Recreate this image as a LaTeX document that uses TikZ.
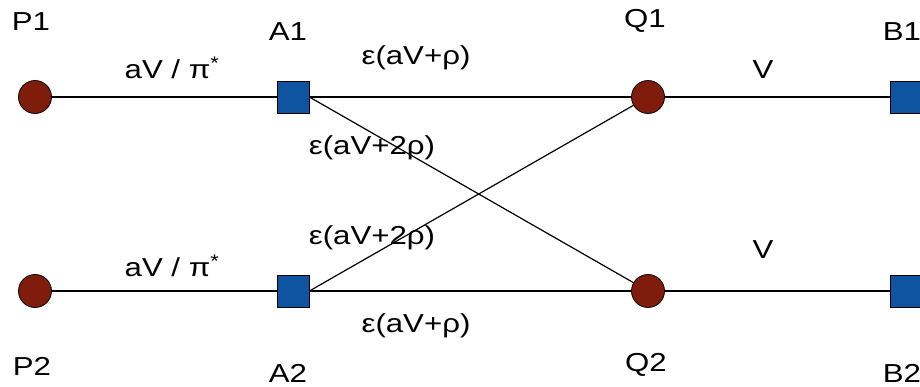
\documentclass[tikz,border=0pt]{standalone}
\usepackage{fontspec}
\setmainfont[FakeStretch=1.2]{Liberation Sans}
\usetikzlibrary{positioning}
\definecolor{portred}{RGB}{128,28,12}
\definecolor{boxblue}{RGB}{14,84,160}

\begin{document}
\begin{tikzpicture}[x=1pt,y=-1pt,
  port/.style={circle,draw=black,fill=portred,minimum size=33pt,inner sep=0pt,line width=0.8pt},
  box/.style={rectangle,draw=black,fill=boxblue,minimum size=32pt,inner sep=0pt,line width=0.8pt},
  lbl/.style={font=\fontsize{26}{30}\selectfont,inner sep=0pt},
  wire/.style={line width=1.2pt}]
\useasboundingbox (0,0) rectangle (920,386);

% top row
\node[port] (P1) at (35,97) {};
\node[box]  (A1) at (293,97) {};
\node[port] (Q1) at (648,97) {};
\node[box]  (B1) at (906,97) {};

% bottom row
\node[port] (P2) at (35,291) {};
\node[box]  (A2) at (293,291) {};
\node[port] (Q2) at (648,291) {};
\node[box]  (B2) at (906,291) {};

% names
\node[lbl] (nP1) at (31,22) {P1};
\node[lbl] (nA1) at (288,32) {A1};
\node[lbl] (nQ1) at (645,21) {Q1};
\node[lbl] (nB1) at (902,32) {B1};
\node[lbl] (nP2) at (32,366) {P2};
\node[lbl] (nA2) at (288,373) {A2};
\node[lbl] (nQ2) at (646,365) {Q2};
\node[lbl] (nB2) at (902,373) {B2};

% connectors
\draw[wire] (P1) -- (A1);
\draw[wire] (A1) -- (Q1);
\draw[wire] (Q1) -- (B1);
\draw[wire] (P2) -- (A2);
\draw[wire] (A2) -- (Q2);
\draw[wire] (Q2) -- (B2);
\draw[wire] (A1.east) -- (Q2);
\draw[wire] (A2.east) -- (Q1);

% weights
\node[lbl] (wP1) at (172,68) {aV / π\textsuperscript{*}};
\node[lbl] (wP2) at (172,266) {aV / π\textsuperscript{*}};
\node[lbl] (wA1) at (416,58) {ε(aV+ρ)};
\node[lbl] (wA2) at (416,326) {ε(aV+ρ)};
\node[lbl] (wX1) at (372,148) {ε(aV+2ρ)};
\node[lbl] (wX2) at (372,238) {ε(aV+2ρ)};
\node[lbl] (wQ1) at (763,70) {V};
\node[lbl] (wQ2) at (763,250) {V};

\end{tikzpicture}
\end{document}
